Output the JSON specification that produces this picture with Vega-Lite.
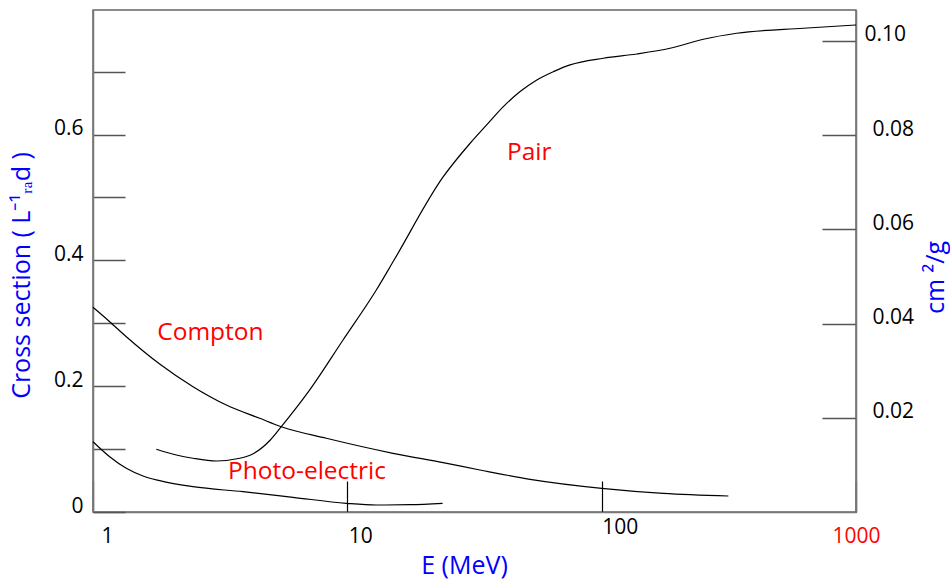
{
  "$schema": "https://vega.github.io/schema/vega-lite/v6.json",
  "width": 763,
  "height": 502,
  "autosize": "none",
  "padding": {"left": 93, "top": 10, "right": 94, "bottom": 70},
  "background": "white",
  "config": {
    "font": "Open Sans",
    "view": {"stroke": "#666", "strokeWidth": 1.5},
    "axis": {
      "grid": false,
      "domainColor": "#777",
      "domainWidth": 1.5,
      "labelFont": "Open Sans",
      "labelFontSize": 21,
      "labelColor": "black",
      "titleFont": "Open Sans",
      "titleFontSize": 25,
      "titleColor": "#0000ff",
      "titleFontWeight": "normal"
    }
  },
  "datasets": {
    "curves": [
      {"series": "Pair", "E": 1.774, "v": 0.0997},
      {"series": "Pair", "E": 2.126, "v": 0.0906},
      {"series": "Pair", "E": 2.473, "v": 0.0854},
      {"series": "Pair", "E": 3.054, "v": 0.0811},
      {"series": "Pair", "E": 3.775, "v": 0.0854},
      {"series": "Pair", "E": 4.3, "v": 0.0935},
      {"series": "Pair", "E": 4.98, "v": 0.1145},
      {"series": "Pair", "E": 5.502, "v": 0.1356},
      {"series": "Pair", "E": 7.114, "v": 0.194},
      {"series": "Pair", "E": 9.618, "v": 0.2734},
      {"series": "Pair", "E": 13.0, "v": 0.3529},
      {"series": "Pair", "E": 15.27, "v": 0.4006},
      {"series": "Pair", "E": 23.8, "v": 0.5326},
      {"series": "Pair", "E": 30.4, "v": 0.5862},
      {"series": "Pair", "E": 35.3, "v": 0.6153},
      {"series": "Pair", "E": 41.06, "v": 0.6444},
      {"series": "Pair", "E": 47.8, "v": 0.6683},
      {"series": "Pair", "E": 55.6, "v": 0.6868},
      {"series": "Pair", "E": 64.6, "v": 0.7},
      {"series": "Pair", "E": 75.1, "v": 0.7107},
      {"series": "Pair", "E": 101.6, "v": 0.7213},
      {"series": "Pair", "E": 137.4, "v": 0.7281},
      {"series": "Pair", "E": 185.8, "v": 0.7372},
      {"series": "Pair", "E": 251, "v": 0.7515},
      {"series": "Pair", "E": 339.6, "v": 0.761},
      {"series": "Pair", "E": 621, "v": 0.769},
      {"series": "Pair", "E": 1000, "v": 0.7742},
      {"series": "Compton", "E": 1, "v": 0.3254},
      {"series": "Compton", "E": 1.163, "v": 0.3025},
      {"series": "Compton", "E": 1.352, "v": 0.2787},
      {"series": "Compton", "E": 1.829, "v": 0.2353},
      {"series": "Compton", "E": 2.473, "v": 0.1992},
      {"series": "Compton", "E": 3.344, "v": 0.1701},
      {"series": "Compton", "E": 4.524, "v": 0.149},
      {"series": "Compton", "E": 5.502, "v": 0.1356},
      {"series": "Compton", "E": 8.27, "v": 0.1172},
      {"series": "Compton", "E": 15.12, "v": 0.0933},
      {"series": "Compton", "E": 23.8, "v": 0.0784},
      {"series": "Compton", "E": 33.2, "v": 0.0668},
      {"series": "Compton", "E": 52.3, "v": 0.052},
      {"series": "Compton", "E": 100.1, "v": 0.0377},
      {"series": "Compton", "E": 174.8, "v": 0.0297},
      {"series": "Compton", "E": 314.9, "v": 0.0254},
      {"series": "Photo", "E": 1, "v": 0.1118},
      {"series": "Photo", "E": 1.163, "v": 0.0879},
      {"series": "Photo", "E": 1.352, "v": 0.0695},
      {"series": "Photo", "E": 1.573, "v": 0.0572},
      {"series": "Photo", "E": 1.829, "v": 0.0498},
      {"series": "Photo", "E": 2.473, "v": 0.0402},
      {"series": "Photo", "E": 3.889, "v": 0.0323},
      {"series": "Photo", "E": 6.115, "v": 0.0234},
      {"series": "Photo", "E": 9.91, "v": 0.0138},
      {"series": "Photo", "E": 13.0, "v": 0.0111},
      {"series": "Photo", "E": 17.64, "v": 0.0116},
      {"series": "Photo", "E": 23.68, "v": 0.0138}
    ],
    "labels": [
      {"label": "Pair", "E": 42.4, "v": 0.5596},
      {"label": "Compton", "E": 1.789, "v": 0.2729},
      {"label": "Photo-electric", "E": 3.396, "v": 0.052}
    ],
    "rightaxis": [
      {"E": 1, "w": 0}
    ]
  },
  "layer": [
    {
      "data": {"name": "curves"},
      "mark": {"type": "line", "interpolate": "monotone", "color": "black", "strokeWidth": 1.2},
      "encoding": {
        "x": {
          "field": "E",
          "type": "quantitative",
          "scale": {"type": "log", "domain": [1, 1000]},
          "axis": {
            "values": [1, 10, 100, 1000],
            "labelExpr": "format(datum.value, 'd')",
            "labelFlush": false,
            "labelOverlap": false,
            "tickSize": -31,
            "tickColor": "black",
            "tickWidth": 1.2,
            "labelPadding": {"condition": {"test": "datum.value == 100", "value": 35}, "value": 44},
            "labelOffset": {"condition": [
              {"test": "datum.value == 1000", "value": 0},
              {"test": "datum.value == 100", "value": 18},
              {"test": "datum.value == 10", "value": 13}
            ], "value": 14},
            "labelColor": {"condition": {"test": "datum.value == 1000", "value": "#ff0000"}, "value": "black"},
            "title": "E (MeV)",
            "titleX": 371,
            "titleY": 53,
            "titleBaseline": "middle",
            "titleAlign": "center"
          }
        },
        "y": {
          "field": "v",
          "type": "quantitative",
          "scale": {"domain": [0, 0.798], "nice": false},
          "axis": {
            "values": [0, 0.1, 0.2, 0.3, 0.4, 0.5, 0.6, 0.7],
            "labelExpr": "datum.value == 0 ? '0' : (round(datum.value * 10) % 2 == 0 ? format(datum.value, '.1f') : '')",
            "tickSize": -32,
            "tickColor": "#555",
            "tickWidth": 1.5,
            "labelPadding": 42,
            "labelBaseline": "alphabetic",
            "title": "Cross section ( L⁻¹ᵣₐd )",
            "titleAngle": 270,
            "titleX": -72,
            "titleY": 265,
            "titleBaseline": "middle",
            "titleAlign": "center"
          }
        },
        "detail": {"field": "series"}
      }
    },
    {
      "data": {"name": "labels"},
      "mark": {"type": "text", "color": "#ff0000", "fontSize": 24.5, "align": "left", "baseline": "alphabetic", "font": "Open Sans"},
      "encoding": {
        "x": {"field": "E", "type": "quantitative"},
        "y": {"field": "v", "type": "quantitative", "scale": {"domain": [0, 0.798], "nice": false}, "axis": null},
        "text": {"field": "label"}
      }
    },
    {
      "data": {"name": "rightaxis"},
      "mark": {"type": "point", "opacity": 0},
      "encoding": {
        "x": {"field": "E", "type": "quantitative"},
        "y": {
          "field": "w",
          "type": "quantitative",
          "scale": {"domain": [0, 0.10653], "nice": false},
          "axis": {
            "orient": "right",
            "values": [0.02, 0.04, 0.06, 0.08, 0.1],
            "labelExpr": "format(datum.value, '.2f')",
            "tickSize": -34,
            "tickColor": "#555",
            "tickWidth": 1.5,
            "labelPadding": {"condition": {"test": "datum.value > 0.09", "value": 42}, "value": 50},
            "labelBaseline": "alphabetic",
            "title": "cm  ²/g",
            "titleAngle": 270,
            "titleX": 79,
            "titleY": 267,
            "titleBaseline": "middle",
            "titleAlign": "center"
          }
        }
      }
    }
  ],
  "resolve": {"scale": {"y": "independent"}}
}
